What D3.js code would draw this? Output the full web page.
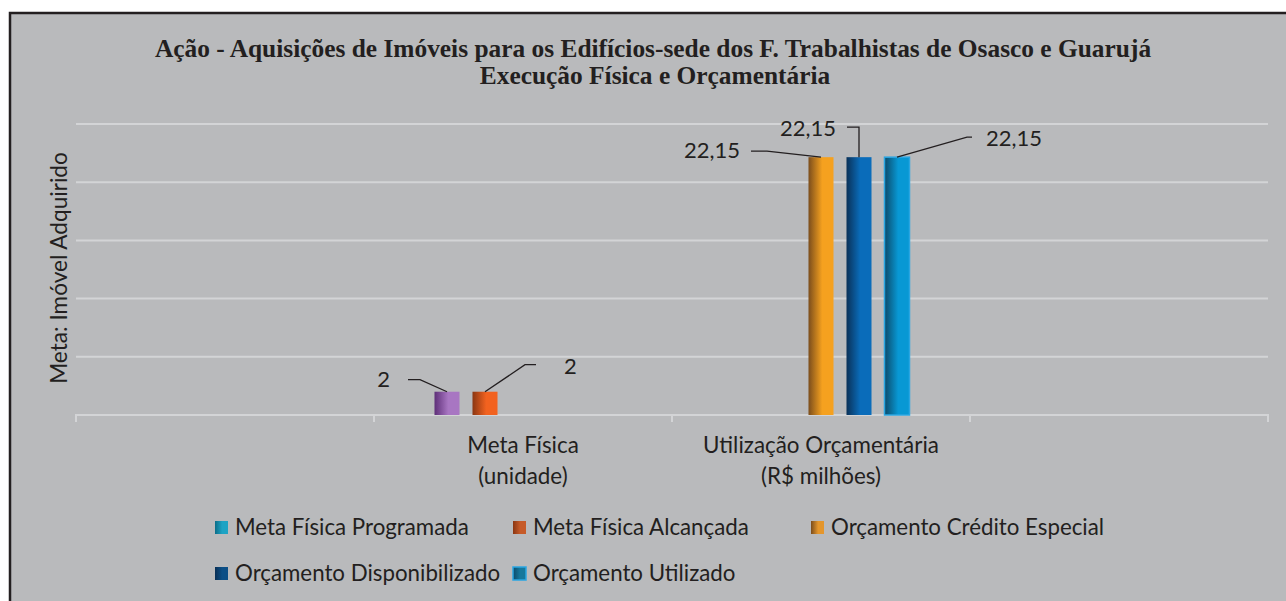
<!DOCTYPE html>
<html>
<head>
<meta charset="utf-8">
<script src="https://cdn.jsdelivr.net/npm/d3@7"></script>
<style>
  body { margin: 0; background: #ffffff; }
  svg { display: block; }
</style>
</head>
<body>
<svg id="svg" width="1286" height="601"></svg>
<script>
// data
var categories = ['', 'Meta Física|(unidade)', 'Utilização Orçamentária|(R$ milhões)', ''];
var seriesNames = ['Meta Física Programada', 'Meta Física Alcançada', 'Orçamento Crédito Especial',
                   'Orçamento Disponibilizado', 'Orçamento Utilizado'];
// values per category, one per series (null = no bar)
var metaFisica = [2, 2, null, null, null];
var utilizacao = [null, null, 22.15, 22.15, 22.15];
var yTicks = [0, 5, 10, 15, 20, 25];

var width = 1286, height = 601;
var svg = d3.select('svg');
var font = 'Lato, "Open Sans", sans-serif';

// gradients for bars and legend keys
var barColors = [
    ['#5e2f78', '#a876c2'],
    ['#8a3612', '#f2621f'],
    ['#7b4d1c', '#f5a11f'],
    ['#0a3158', '#0a6cba'],
    ['#0c4a6a', '#0898d4']
];
var keyColors = [
    ['#0b6d88', '#1ea3c4'],
    ['#8a3612', '#c65a28'],
    ['#7b4d1c', '#e4962c'],
    ['#082f55', '#0c4f86'],
    ['#0c4a6a', '#16789c']
];
var defs = svg.append('defs');
function addGrad(id, c) {
    var g = defs.append('linearGradient').attr('id', id)
        .attr('x1', '0%').attr('x2', '100%').attr('y1', '0%').attr('y2', '0%');
    g.append('stop').attr('offset', '0%').attr('stop-color', c[0]);
    g.append('stop').attr('offset', '55%').attr('stop-color', c[1]);
    g.append('stop').attr('offset', '100%').attr('stop-color', c[1]);
}
barColors.forEach(function(c, i) { addGrad('bar' + i, c); });
keyColors.forEach(function(c, i) { addGrad('key' + i, c); });

// frame
svg.append('rect')
    .attr('x', 10).attr('y', 13)
    .attr('width', 1290).attr('height', 600)
    .attr('fill', '#b9babc')
    .attr('stroke', '#231f20')
    .attr('stroke-width', 2.5);

// title
var title = svg.append('text')
    .attr('text-anchor', 'middle')
    .attr('font-family', '"Liberation Serif", "Times New Roman", serif')
    .attr('font-weight', 'bold')
    .attr('font-size', 25.4)
    .attr('fill', '#231f20');
title.append('tspan').attr('x', 653).attr('y', 57)
    .text('Ação - Aquisições de Imóveis para os Edifícios-sede dos F. Trabalhistas de Osasco e Guarujá');
title.append('tspan').attr('x', 655).attr('y', 84)
    .text('Execução Física e Orçamentária');

// scales
var plotLeft = 76, plotRight = 1268, plotTop = 124, plotBottom = 415;

var x0 = d3.scaleBand()
    .domain(d3.range(categories.length))
    .range([plotLeft, plotRight])
    .padding(0);

var groupW = 190;
var x1 = d3.scaleBand()
    .domain(d3.range(seriesNames.length))
    .range([(x0.bandwidth() - groupW) / 2, (x0.bandwidth() + groupW) / 2])
    .paddingInner(0.342)
    .paddingOuter(0.171);

var y = d3.scaleLinear()
    .domain([0, 25])
    .range([plotBottom, plotTop]);

// gridlines
svg.append('g')
    .selectAll('line')
    .data(yTicks.slice(1))
    .enter()
    .append('line')
    .attr('x1', plotLeft).attr('x2', plotRight)
    .attr('y1', function(d) { return y(d); })
    .attr('y2', function(d) { return y(d); })
    .attr('stroke', '#d3d4d6')
    .attr('stroke-width', 2);

// x axis with tick marks at category boundaries
var xAxis = svg.append('g')
    .attr('transform', 'translate(0,' + plotBottom + ')');
xAxis.append('line')
    .attr('x1', plotLeft - 1).attr('x2', plotRight + 1)
    .attr('stroke', '#d3d4d6').attr('stroke-width', 2);
xAxis.selectAll('.tick')
    .data(d3.range(categories.length + 1))
    .enter()
    .append('line')
    .attr('x1', function(d) { return d < categories.length ? x0(d) : plotRight; })
    .attr('x2', function(d) { return d < categories.length ? x0(d) : plotRight; })
    .attr('y1', 0).attr('y2', 7)
    .attr('stroke', '#d3d4d6').attr('stroke-width', 2);

// category labels
categories.forEach(function(c, i) {
    if (!c) return;
    var parts = c.split('|');
    var t = svg.append('text')
        .attr('text-anchor', 'middle')
        .attr('font-family', font)
        .attr('font-size', 22.4)
        .attr('fill', '#231f20');
    parts.forEach(function(p, j) {
        t.append('tspan')
            .attr('x', x0(i) + x0.bandwidth() / 2)
            .attr('y', 453 + j * 31)
            .text(p);
    });
});

// y axis title
svg.append('text')
    .attr('transform', 'translate(67,' + 268 + ') rotate(-90)')
    .attr('text-anchor', 'middle')
    .attr('font-family', font)
    .attr('font-size', 22.6)
    .attr('fill', '#231f20')
    .text('Meta: Imóvel Adquirido');

// bars
var rows = [null, metaFisica, utilizacao, null];
var barData = [];
rows.forEach(function(r, ci) {
    if (!r) return;
    r.forEach(function(v, si) {
        if (v !== null) barData.push({ cat: ci, s: si, v: v });
    });
});

svg.append('g')
    .selectAll('rect')
    .data(barData)
    .enter()
    .append('rect')
    .attr('x', function(d) { return x0(d.cat) + x1(d.s); })
    .attr('y', function(d) { return y(d.v); })
    .attr('width', x1.bandwidth())
    .attr('height', function(d) { return plotBottom - y(d.v); })
    .attr('fill', function(d) { return 'url(#bar' + d.s + ')'; })
    .attr('stroke', function(d) { return d.s === 4 ? '#2aa6e2' : 'none'; })
    .attr('stroke-width', 1.5);

// data labels with leader lines (offsets of the label from the bar top)
var labelOffsets = [
    { dx: -57, dy: -12, anchor: 'end', leg: [[-27, -12], [-39, -12]] },
    { dx: 79, dy: -25, anchor: 'start', leg: [[40, -27], [51, -27]] },
    { dx: -81, dy: -6, anchor: 'end', leg: [[-54, -6], [-70, -6]] },
    { dx: -23, dy: -28, anchor: 'end', leg: [[0, -30], [-12, -30]] },
    { dx: 89, dy: -18, anchor: 'start', leg: [[70, -20], [75, -20]] }
];
var fmt = function(v) { return String(v).replace('.', ','); };

var labels = svg.append('g');
barData.forEach(function(d) {
    var o = labelOffsets[d.s];
    var bx = x0(d.cat) + x1(d.s) + x1.bandwidth() / 2;
    var by = y(d.v);
    var pts = [[bx, by]].concat(o.leg.map(function(p) { return [bx + p[0], by + p[1]]; }));
    labels.append('path')
        .attr('d', d3.line()(pts))
        .attr('fill', 'none')
        .attr('stroke', '#231f20')
        .attr('stroke-width', 1.3);
    labels.append('text')
        .attr('x', bx + o.dx)
        .attr('y', by + o.dy + 7)
        .attr('text-anchor', o.anchor)
        .attr('font-family', font)
        .attr('font-size', 22)
        .attr('fill', '#231f20')
        .text(fmt(d.v));
});

// legend
var legendPos = [[215, 528], [513, 528], [811, 528], [215, 574], [513, 574]];
var legend = svg.append('g');
seriesNames.forEach(function(name, i) {
    var p = legendPos[i];
    legend.append('rect')
        .attr('x', p[0]).attr('y', p[1] - 7)
        .attr('width', 13).attr('height', 13)
        .attr('fill', 'url(#key' + i + ')')
        .attr('stroke', i === 4 ? '#2aa6e2' : 'none')
        .attr('stroke-width', 1.5);
    legend.append('text')
        .attr('x', p[0] + 20).attr('y', p[1] + 7)
        .attr('font-family', font)
        .attr('font-size', 22.3)
        .attr('fill', '#231f20')
        .text(name);
});
</script>
</body>
</html>
